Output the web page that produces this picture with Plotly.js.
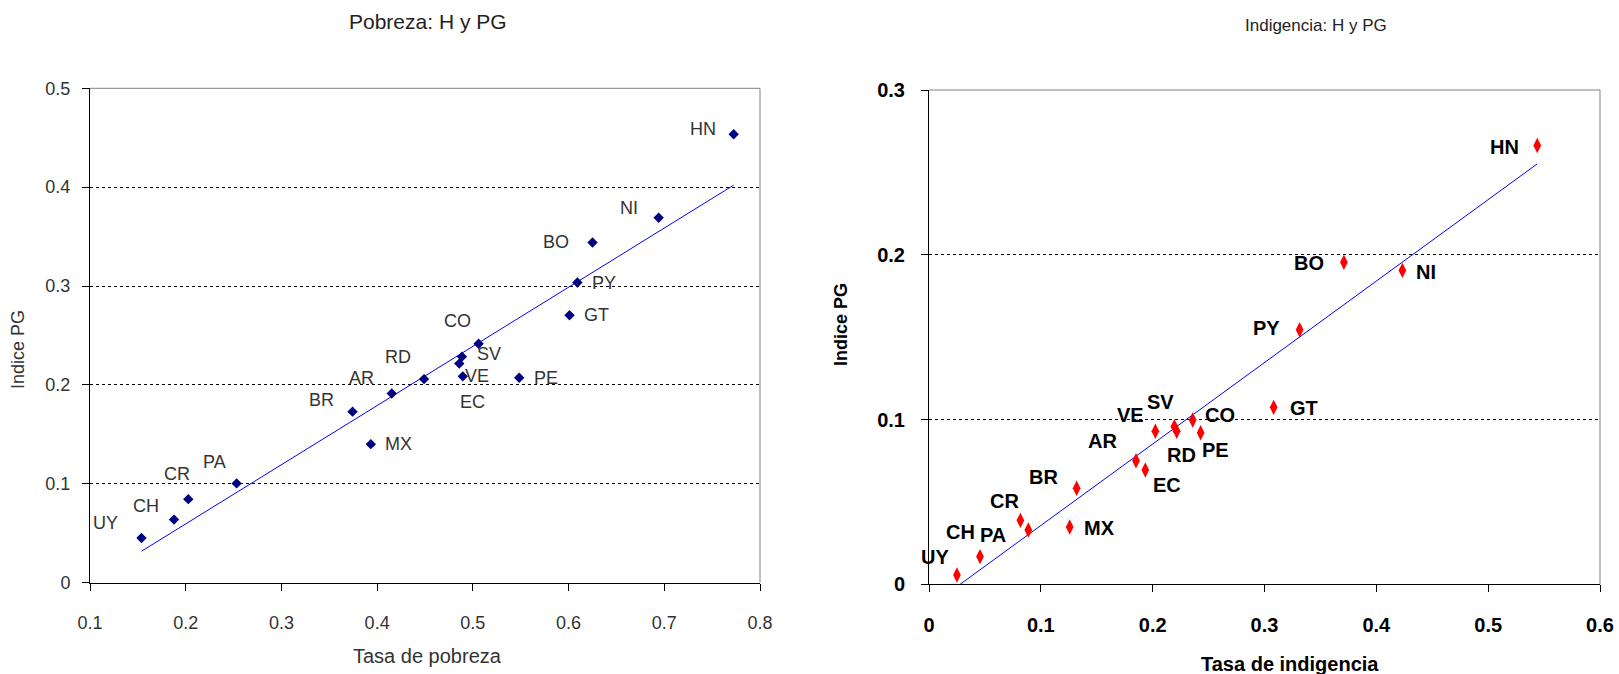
<!DOCTYPE html>
<html>
<head>
<meta charset="utf-8">
<script src="https://cdn.plot.ly/plotly-3.0.1.min.js"></script>
<style>
  html, body { margin: 0; padding: 0; background: #ffffff; }
  #chart { width: 1619px; height: 674px; }
</style>
</head>
<body>
<div id="chart"></div>
<script>
// ---------- DATA ----------
const countries = ["HN","NI","BO","PY","GT","CO","SV","VE","EC","PE","RD","AR","BR","MX","PA","CR","CH","UY"];

// Pobreza: tasa de pobreza (H) and índice PG
const pobrezaH  = [0.7725,0.6941,0.6250,0.6092,0.6010,0.5060,0.4886,0.4858,0.4895,0.5484,0.4490,0.4153,0.3743,0.3934,0.2532,0.2027,0.1878,0.1538];
const pobrezaPG = [0.4536,0.3691,0.3441,0.3036,0.2705,0.2416,0.2286,0.2216,0.2087,0.2072,0.2059,0.1914,0.1730,0.1401,0.1004,0.0845,0.0638,0.0452];

// Indigencia: tasa de indigencia (H) and índice PG
const indigH  = [0.5439,0.4233,0.3710,0.3314,0.3082,0.2358,0.2194,0.2024,0.1934,0.2429,0.2215,0.1851,0.1320,0.1258,0.0888,0.0817,0.0456,0.0250];
const indigPG = [0.2663,0.1905,0.1954,0.1545,0.1074,0.0997,0.0957,0.0929,0.0694,0.0920,0.0929,0.0750,0.0583,0.0348,0.0330,0.0388,0.0168,0.0056];

const leftTickVals  = [0.1,0.2,0.3,0.4,0.5,0.6,0.7,0.8];
const leftTickText  = ["0.1","0.2","0.3","0.4","0.5","0.6","0.7","0.8"];
const leftYTickVals = [0,0.1,0.2,0.3,0.4,0.5];
const leftYTickText = ["0","0.1","0.2","0.3","0.4","0.5"];
const rightTickVals  = [0,0.1,0.2,0.3,0.4,0.5,0.6];
const rightTickText  = ["0","0.1","0.2","0.3","0.4","0.5","0.6"];
const rightYTickVals = [0,0.1,0.2,0.3];
const rightYTickText = ["0","0.1","0.2","0.3"];

// ---------- STYLE: label offsets in pixels [dx, dy(screen down)] ----------
const leftLabelOffsets = {
  HN:[-31,-5], NI:[-30,-10], BO:[-37,0], PY:[27,0], GT:[27,0], CO:[-21,-23],
  SV:[27,-3], VE:[18,12], EC:[10,26], PE:[27,0], RD:[-26,-22], AR:[-30,-15],
  BR:[-31,-12], MX:[28,0], PA:[-22,-21], CR:[-11,-25], CH:[-28,-14], UY:[-36,-15]
};
const rightLabelOffsets = {
  HN:[-33,1], NI:[24,2], BO:[-35,1], PY:[-33,-2], GT:[30,1], CO:[27,-5],
  SV:[-14,-25], VE:[-25,-16], EC:[22,15], PE:[15,17], RD:[5,24], AR:[-34,-20],
  BR:[-33,-11], MX:[30,1], PA:[-35,5], CR:[-16,-19], CH:[-20,-25], UY:[-22,-18]
};

// ---------- least-squares trend ----------
function trend(xs, ys) {
  const n = xs.length;
  let sx=0, sy=0, sxx=0, sxy=0;
  for (let i=0;i<n;i++){ sx+=xs[i]; sy+=ys[i]; sxx+=xs[i]*xs[i]; sxy+=xs[i]*ys[i]; }
  const b = (n*sxy - sx*sy)/(n*sxx - sx*sx);
  const a = (sy - b*sx)/n;
  const x0 = Math.min(...xs), x1 = Math.max(...xs);
  return { x:[x0,x1], y:[a+b*x0, a+b*x1] };
}
const tL = trend(pobrezaH, pobrezaPG);
const tR = trend(indigH, indigPG);

const W = 1619, H = 674;
const FONT = "Liberation Sans, Arial, sans-serif";
const leftColor = "#333333";

const traces = [
  { x: tL.x, y: tL.y, xaxis:"x", yaxis:"y", mode:"lines", line:{color:"#0000ff", width:1}, hoverinfo:"skip" },
  { x: pobrezaH, y: pobrezaPG, text: countries, xaxis:"x", yaxis:"y", mode:"markers",
    marker:{symbol:"diamond", size:8, color:"#000080"} },
  { x: tR.x, y: tR.y, xaxis:"x2", yaxis:"y2", mode:"lines", line:{color:"#0000ff", width:1}, hoverinfo:"skip" },
  { x: indigH, y: indigPG, text: countries, xaxis:"x2", yaxis:"y2", mode:"markers",
    marker:{symbol:"diamond-tall", size:11, color:"#ff0000"} }
];

const annotations = [];
countries.forEach((c,i) => {
  const o = leftLabelOffsets[c];
  annotations.push({ x: pobrezaH[i], y: pobrezaPG[i], xref:"x", yref:"y", text:c, showarrow:false,
    xshift:o[0], yshift:-o[1], font:{family:FONT, size:18, color:leftColor} });
  const p = rightLabelOffsets[c];
  annotations.push({ x: indigH[i], y: indigPG[i], xref:"x2", yref:"y2", text:c, showarrow:false,
    xshift:p[0], yshift:-p[1], font:{family:FONT, size:20, color:"#000000", weight:"bold"} });
});

// titles & axis titles as paper annotations (pixel positions converted to paper)
function ann(text, px, py, size, bold, color, angle) {
  return { text, x: px/W, y: 1 - py/H, xref:"paper", yref:"paper", showarrow:false,
    xanchor:"center", yanchor:"middle", textangle: angle||0,
    font:{family:FONT, size, color, weight: bold ? "bold" : "normal"} };
}
annotations.push(ann("Pobreza: H y PG", 428, 21, 21, false, "#222222"));
annotations.push(ann("Indigencia: H y PG", 1316, 25, 17, false, "#222222"));
annotations.push(ann("Tasa de pobreza", 427, 656, 20, false, leftColor));
annotations.push(ann("Indice PG", 18, 350, 18, false, leftColor, -90));
annotations.push(ann("Tasa de indigencia", 1290, 664, 20, true, "#000000"));
annotations.push(ann("Indice PG", 841, 325, 18, true, "#000000", -90));

const axL = 90, axR = 760, ayT = 88.3, ayB = 582.7;
const bxL = 929, bxR = 1600, byT = 90, byB = 584.3;

const commonX = { showgrid:false, zeroline:false, showline:true, linecolor:"#000000", linewidth:1,
  ticks:"outside", ticklen:7, tickcolor:"#000000", automargin:false, fixedrange:true };
const commonY = { showgrid:true, gridcolor:"#000000", gridwidth:1, griddash:"3px,3px", zeroline:false,
  showline:true, linecolor:"#000000", linewidth:1, ticks:"outside", ticklen:7, tickcolor:"#000000",
  automargin:false, fixedrange:true };

const layout = {
  width: W, height: H,
  margin:{l:0, r:0, t:0, b:0},
  paper_bgcolor:"#ffffff", plot_bgcolor:"#ffffff",
  showlegend:false,
  xaxis: Object.assign({}, commonX, {
    domain:[axL/W, axR/W], range:[0.1,0.8], tickvals:leftTickVals, ticktext:leftTickText,
    tickfont:{family:FONT, size:18, color:leftColor}, ticklabelstandoff:17, anchor:"y" }),
  yaxis: Object.assign({}, commonY, {
    domain:[1-ayB/H, 1-ayT/H], range:[0,0.5], tickvals:leftYTickVals, ticktext:leftYTickText,
    tickfont:{family:FONT, size:18, color:leftColor}, ticklabelstandoff:8, anchor:"x" }),
  xaxis2: Object.assign({}, commonX, {
    domain:[bxL/W, bxR/W], range:[0,0.6], tickvals:rightTickVals, ticktext:rightTickText,
    tickfont:{family:FONT, size:20, color:"#000000", weight:"bold"}, ticklabelstandoff:16, anchor:"y2" }),
  yaxis2: Object.assign({}, commonY, {
    domain:[1-byB/H, 1-byT/H], range:[0,0.3], tickvals:rightYTickVals, ticktext:rightYTickText,
    tickfont:{family:FONT, size:20, color:"#000000", weight:"bold"}, ticklabelstandoff:12, anchor:"x2" }),
  shapes: [
    { type:"line", xref:"paper", yref:"paper", x0:axL/W, x1:axR/W, y0:1-ayT/H, y1:1-ayT/H, line:{color:"#808080", width:1}, layer:"above" },
    { type:"line", xref:"paper", yref:"paper", x0:axR/W, x1:axR/W, y0:1-ayB/H, y1:1-ayT/H, line:{color:"#808080", width:1}, layer:"above" },
    { type:"line", xref:"paper", yref:"paper", x0:bxL/W, x1:bxR/W, y0:1-byT/H, y1:1-byT/H, line:{color:"#808080", width:1}, layer:"above" },
    { type:"line", xref:"paper", yref:"paper", x0:bxR/W, x1:bxR/W, y0:1-byB/H, y1:1-byT/H, line:{color:"#808080", width:1}, layer:"above" }
  ],
  annotations
};

Plotly.newPlot("chart", traces, layout, {staticPlot:true, displayModeBar:false});
</script>
</body>
</html>
